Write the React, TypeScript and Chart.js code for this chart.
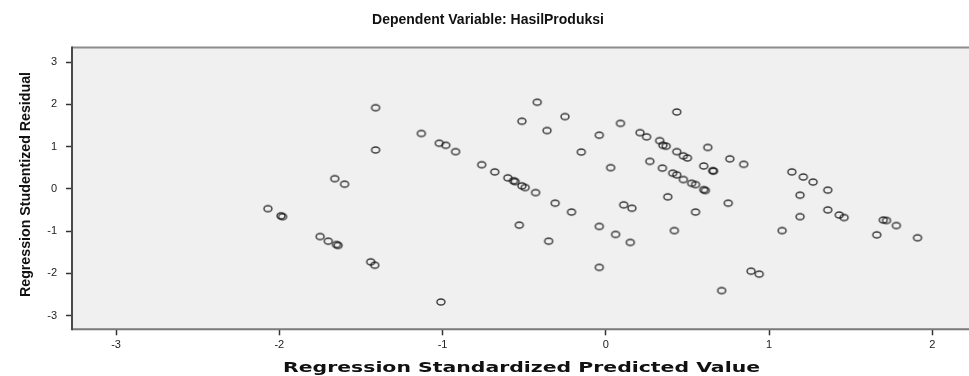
import React, { useEffect, useRef } from "react";
import { Chart, registerables } from "chart.js";

Chart.register(...registerables);

const chartTitle = "Dependent Variable: HasilProduksi";
const xAxisTitle = "Regression Standardized Predicted Value";
const yAxisTitle = "Regression Studentized Residual";

const xTickValues = [-3, -2, -1, 0, 1, 2];
const yTickValues = [-3, -2, -1, 0, 1, 2, 3];

const predictedValue = [
  -2.07, -1.99, -1.98, -1.75, -1.7, -1.65, -1.64, -1.66, -1.6, -1.41,
  -1.41, -1.44, -1.415, -1.13, -1.02, -0.98, -0.92, -1.01, -0.76, -0.68,
  -0.6, -0.565, -0.555, -0.514, -0.494, -0.43, -0.53, -0.514, -0.42, -0.36,
  -0.25, -0.31, -0.21, -0.35, -0.15, -0.04, 0.03, -0.04, 0.06, 0.15,
  -0.04, 0.09, 0.11, 0.16, 0.21, 0.25, 0.27, 0.33, 0.35, 0.37,
  0.435, 0.475, 0.5, 0.625, 0.435, 0.347, 0.41, 0.435, 0.475, 0.526,
  0.55, 0.6, 0.61, 0.6, 0.655, 0.66, 0.76, 0.845, 0.38, 0.55,
  0.75, 0.42, 0.71, 0.89, 0.94, 1.08, 1.14, 1.21, 1.27, 1.36,
  1.19, 1.19, 1.36, 1.43, 1.46, 1.7, 1.72, 1.78, 1.66, 1.91,
];

const studentizedResidual = [
  -0.47, -0.64, -0.66, -1.13, -1.24, -1.32, -1.34, 0.24, 0.11, 1.92,
  0.92, -1.73, -1.81, 1.31, 1.08, 1.03, 0.88, -2.68, 0.57, 0.4,
  0.26, 0.19, 0.17, 0.07, 0.03, -0.09, -0.86, 1.6, 2.05, 1.38,
  1.71, -0.34, -0.55, -1.24, 0.87, 1.27, 0.5, -0.89, -1.08, -1.27,
  -1.86, 1.55, -0.38, -0.46, 1.33, 1.23, 0.65, 1.14, 1.03, 1.01,
  0.88, 0.78, 0.73, 0.98, 1.82, 0.49, 0.37, 0.33, 0.22, 0.13,
  0.1, -0.02, -0.04, 0.54, 0.43, 0.42, 0.71, 0.58, -0.19, -0.55,
  -0.34, -0.99, -2.41, -1.95, -2.02, -0.99, 0.4, 0.28, 0.16, -0.03,
  -0.15, -0.66, -0.5, -0.62, -0.68, -0.74, -0.75, -0.87, -1.09, -1.16,
];

function makeMarker(): HTMLCanvasElement {
  const c = document.createElement("canvas");
  c.width = 12;
  c.height = 10;
  const g = c.getContext("2d")!;
  g.strokeStyle = "rgba(10,10,10,0.8)";
  g.lineWidth = 1.4;
  g.beginPath();
  g.ellipse(6, 5, 4, 3, 0, 0, Math.PI * 2);
  g.stroke();
  return c;
}

function fitText(ctx: CanvasRenderingContext2D, text: string, cx: number, cy: number, targetW: number) {
  const w0 = ctx.measureText(text).width;
  ctx.save();
  ctx.translate(cx, cy);
  ctx.scale(targetW / w0, 1);
  ctx.textAlign = "center";
  ctx.fillText(text, 0, 0);
  ctx.restore();
}

const framePlugin = {
  id: "spssFrame",
  beforeDatasetsDraw(chart: any) {
    const { ctx, chartArea } = chart;
    const { left, top, right, bottom } = chartArea;
    ctx.save();
    ctx.fillStyle = "#f0f0f0";
    ctx.fillRect(left, top, right - left, bottom - top);
    ctx.lineWidth = 2;
    ctx.strokeStyle = "#8c8c8c";
    ctx.beginPath();
    ctx.moveTo(left, top);
    ctx.lineTo(right, top);
    ctx.stroke();
    ctx.strokeStyle = "#7a7a7a";
    ctx.beginPath();
    ctx.moveTo(left, bottom);
    ctx.lineTo(right, bottom);
    ctx.stroke();
    ctx.strokeStyle = "#4a4a4a";
    ctx.beginPath();
    ctx.moveTo(left, top - 1);
    ctx.lineTo(left, bottom + 1);
    ctx.stroke();
    ctx.restore();
  },
  afterDraw(chart: any) {
    const { ctx } = chart;
    ctx.save();
    ctx.fillStyle = "#111";
    ctx.textBaseline = "alphabetic";
    // x axis title
    ctx.font = "bold 14px 'DejaVu Sans', 'Liberation Sans', sans-serif";
    fitText(ctx, xAxisTitle, 521.5, 371.5, 477);
    // y axis title (rotated)
    ctx.translate(30, 184.5);
    ctx.rotate(-Math.PI / 2);
    ctx.font = "bold 15px 'Liberation Sans', Arial, sans-serif";
    fitText(ctx, yAxisTitle, 0, 0, 225);
    ctx.restore();
  },
};

export default function App() {
  const canvasRef = useRef<HTMLCanvasElement | null>(null);

  useEffect(() => {
    if (!canvasRef.current) return;
    const marker = makeMarker();
    const points = predictedValue.map((x, i) => ({ x, y: studentizedResidual[i] }));
    const tickFont = { family: "'Liberation Sans', Arial, sans-serif", size: 11 };
    const chart = new Chart(canvasRef.current, {
      type: "scatter",
      data: {
        datasets: [
          {
            data: points,
            pointStyle: marker as any,
            pointRadius: 4,
            pointHoverRadius: 4,
            borderColor: "#222",
            backgroundColor: "transparent",
          },
        ],
      },
      plugins: [framePlugin],
      options: {
        animation: false,
        responsive: false,
        layout: { padding: { left: 0, right: 9, top: 0, bottom: 0 } },
        plugins: {
          legend: { display: false },
          tooltip: { enabled: false },
          title: {
            display: true,
            text: chartTitle,
            color: "#111",
            font: { family: "'Liberation Sans', Arial, sans-serif", size: 14, weight: "bold", lineHeight: 1.2 },
            padding: { top: 12, bottom: 18.7 },
          },
        },
        scales: {
          x: {
            type: "linear",
            min: -3.27,
            max: 2.268,
            afterBuildTicks: (scale: any) => {
              scale.ticks = xTickValues.map((v) => ({ value: v }));
            },
            afterFit: (scale: any) => {
              scale.height = 46.7;
            },
            border: { display: false },
            grid: { drawOnChartArea: false, drawTicks: true, tickLength: 6, tickColor: "#333", tickWidth: 1.5 },
            ticks: { color: "#222", font: tickFont, padding: 3, maxRotation: 0 },
            title: { display: false, text: xAxisTitle },
          },
          y: {
            type: "linear",
            min: -3.327,
            max: 3.346,
            afterBuildTicks: (scale: any) => {
              scale.ticks = yTickValues.map((v) => ({ value: v }));
            },
            afterFit: (scale: any) => {
              scale.width = 72;
            },
            border: { display: false },
            grid: { drawOnChartArea: false, drawTicks: true, tickLength: 6, tickColor: "#333", tickWidth: 1.5 },
            ticks: { color: "#222", font: tickFont, padding: 9 },
            title: { display: false, text: yAxisTitle },
          },
        },
      },
    });
    return () => chart.destroy();
  }, []);

  return (
    <div style={{ position: "absolute", left: 0, top: 0, width: 969, height: 376, overflow: "hidden", background: "#fff" }}>
      <canvas ref={canvasRef} width={985} height={376} style={{ display: "block" }} />
    </div>
  );
}
